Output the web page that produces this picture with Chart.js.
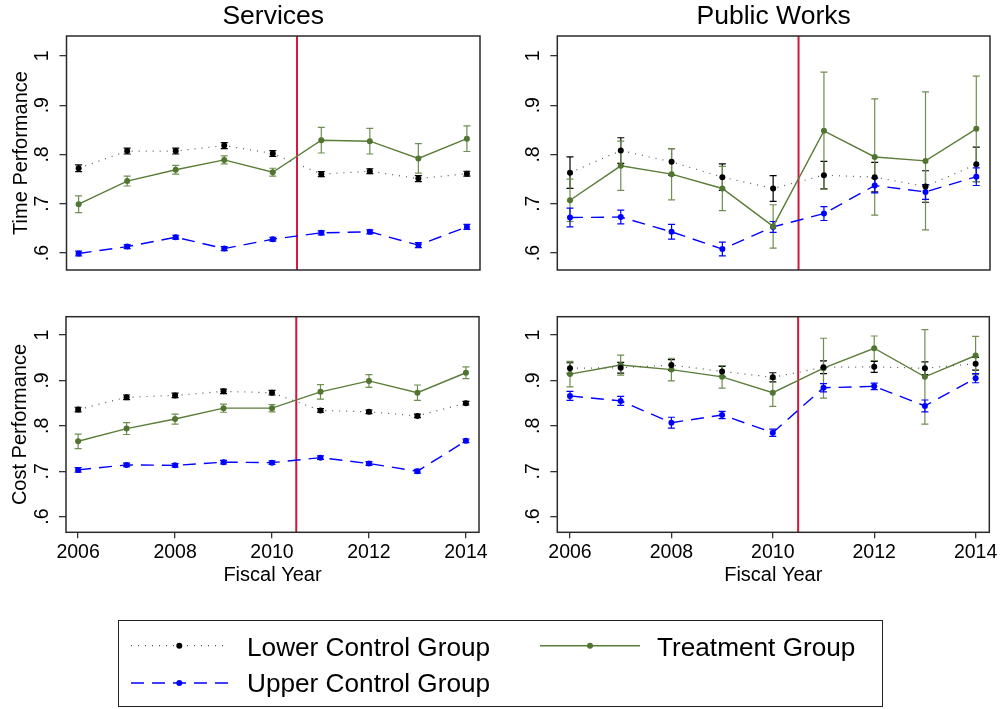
<!DOCTYPE html>
<html>
<head>
<meta charset="utf-8">
<script src="https://cdn.jsdelivr.net/npm/chart.js@4.4.1/dist/chart.umd.min.js"></script>
<style>
  html, body { margin:0; padding:0; background:#fff; }
  #page { position:relative; width:1003px; height:709px; background:#fff; overflow:hidden;
          font-family:"Liberation Sans", Arial, Helvetica, sans-serif; }
  .panel { position:absolute; }
  .legbox { position:absolute; left:118px; top:620px; width:765px; height:87px; box-sizing:border-box;
            border:1.5px solid #222; }
  .legtxt { position:absolute; font-size:26.2px; line-height:26.2px; color:#000; white-space:nowrap; }
  svg.leg { position:absolute; left:0; top:0; }
</style>
</head>
<body>
<div id="page">
  <div class="panel" style="left:0;top:0;width:500px;height:300px"><canvas id="c1"></canvas></div>
  <div class="panel" style="left:500px;top:0;width:503px;height:300px"><canvas id="c2"></canvas></div>
  <div class="panel" style="left:0;top:290px;width:500px;height:310px"><canvas id="c3"></canvas></div>
  <div class="panel" style="left:500px;top:290px;width:503px;height:310px"><canvas id="c4"></canvas></div>

  <div class="legbox"></div>
  <svg class="leg" width="1003" height="709">
    <line x1="131" y1="645.7" x2="228" y2="645.7" stroke="#555" stroke-width="1.2" stroke-dasharray="1 6"/>
    <circle cx="179.3" cy="645.7" r="3" fill="#000"/>
    <line x1="131" y1="683" x2="228" y2="683" stroke="#0000ff" stroke-width="1.4" stroke-dasharray="13 8"/>
    <circle cx="179.3" cy="683" r="3" fill="#0000ff"/>
    <line x1="540" y1="645.7" x2="640" y2="645.7" stroke="#5a7d38" stroke-width="1.4"/>
    <circle cx="590" cy="645.7" r="3" fill="#4f7530"/>
  </svg>
  <div class="legtxt" style="left:247px;top:633.5px">Lower Control Group</div>
  <div class="legtxt" style="left:657px;top:633.5px">Treatment Group</div>
  <div class="legtxt" style="left:247px;top:670.3px">Upper Control Group</div>
</div>

<script>
// ---------------- DATA ----------------
const years = [2006, 2007, 2008, 2009, 2010, 2011, 2012, 2013, 2014];
const policyYear = 2010.5;
const xTickValues = [2006, 2008, 2010, 2012, 2014];
const xTickLabels = ['2006', '2008', '2010', '2012', '2014'];
const yTickValues = [0.6, 0.7, 0.8, 0.9, 1];
const yTickLabels = ['.6', '.7', '.8', '.9', '1'];
const panelTitles = ['Services', 'Public Works'];
const rowTitles = ['Time Performance', 'Cost Performance'];
const xAxisTitle = 'Fiscal Year';
const seriesNames = ['Lower Control Group', 'Treatment Group', 'Upper Control Group'];

// Services – Time Performance
const svcTimeLower    = [0.772, 0.807, 0.807, 0.818, 0.802, 0.760, 0.766, 0.751, 0.761];
const svcTimeLowerErr = [0.007, 0.006, 0.006, 0.006, 0.006, 0.005, 0.005, 0.006, 0.005];
const svcTimeTreat    = [0.699, 0.746, 0.769, 0.789, 0.764, 0.829, 0.827, 0.792, 0.832];
const svcTimeTreatErr = [0.017, 0.010, 0.009, 0.008, 0.008, 0.026, 0.026, 0.030, 0.026];
const svcTimeUpper    = [0.599, 0.613, 0.632, 0.609, 0.628, 0.641, 0.643, 0.616, 0.653];
const svcTimeUpperErr = [0.005, 0.004, 0.004, 0.004, 0.004, 0.004, 0.004, 0.005, 0.005];

// Public Works – Time Performance
const pwTimeLower    = [0.763, 0.808, 0.785, 0.754, 0.731, 0.758, 0.754, 0.735, 0.780];
const pwTimeLowerErr = [0.032, 0.026, 0.027, 0.027, 0.026, 0.028, 0.030, 0.032, 0.035];
const pwTimeTreat    = [0.707, 0.777, 0.760, 0.731, 0.654, 0.848, 0.795, 0.787, 0.852];
const pwTimeTreatErr = [0.043, 0.050, 0.052, 0.045, 0.044, 0.119, 0.118, 0.140, 0.107];
const pwTimeUpper    = [0.672, 0.673, 0.643, 0.608, 0.653, 0.680, 0.737, 0.724, 0.755];
const pwTimeUpperErr = [0.019, 0.014, 0.015, 0.014, 0.011, 0.014, 0.015, 0.015, 0.018];

// Services – Cost Performance
const svcCostLower    = [0.836, 0.863, 0.867, 0.876, 0.873, 0.834, 0.831, 0.822, 0.850];
const svcCostLowerErr = [0.005, 0.005, 0.005, 0.005, 0.005, 0.004, 0.004, 0.004, 0.004];
const svcCostTreat    = [0.766, 0.794, 0.815, 0.839, 0.839, 0.875, 0.899, 0.873, 0.917];
const svcCostTreatErr = [0.016, 0.013, 0.011, 0.009, 0.008, 0.016, 0.014, 0.017, 0.013];
const svcCostUpper    = [0.703, 0.714, 0.713, 0.720, 0.719, 0.730, 0.717, 0.700, 0.767];
const svcCostUpperErr = [0.005, 0.004, 0.004, 0.004, 0.004, 0.004, 0.004, 0.004, 0.004];

// Public Works – Cost Performance
const pwCostLower    = [0.927, 0.928, 0.934, 0.920, 0.907, 0.929, 0.930, 0.927, 0.937];
const pwCostLowerErr = [0.012, 0.012, 0.012, 0.011, 0.010, 0.014, 0.012, 0.014, 0.014];
const pwCostTreat    = [0.914, 0.934, 0.924, 0.908, 0.873, 0.927, 0.971, 0.908, 0.955];
const pwCostTreatErr = [0.028, 0.022, 0.025, 0.025, 0.030, 0.066, 0.027, 0.104, 0.042];
const pwCostUpper    = [0.866, 0.855, 0.807, 0.824, 0.785, 0.884, 0.887, 0.844, 0.905];
const pwCostUpperErr = [0.010, 0.010, 0.012, 0.008, 0.008, 0.009, 0.007, 0.013, 0.010];

// ---------------- STYLE ----------------
const FONT = '"Liberation Sans", Arial, Helvetica, sans-serif';
const COL_LOWER = '#000000', COL_LOWER_LINE = '#555555';
const COL_TREAT = '#5a7d38', COL_TREAT_PT = '#4f7530', COL_TREAT_ERR = '#6f8f50';
const COL_UPPER = '#0000ff';
const COL_RED = '#d4163c';
const X_MIN = 2005.75, X_MAX = 2014.27, Y_MIN = 0.5655, Y_MAX = 1.0405;

function pts(vals) { return years.map((x, i) => ({ x: x, y: vals[i] })); }

function makeDatasets(lower, lowerErr, treat, treatErr, upper, upperErr) {
  return [
    { label: seriesNames[0], data: pts(lower), err: lowerErr, errColor: COL_LOWER,
      borderColor: COL_LOWER_LINE, borderWidth: 1.2, borderDash: [1, 6],
      pointBackgroundColor: COL_LOWER, pointBorderWidth: 0, pointRadius: 3 },
    { label: seriesNames[1], data: pts(treat), err: treatErr, errColor: COL_TREAT_ERR,
      borderColor: COL_TREAT, borderWidth: 1.4,
      pointBackgroundColor: COL_TREAT_PT, pointBorderWidth: 0, pointRadius: 3 },
    { label: seriesNames[2], data: pts(upper), err: upperErr, errColor: COL_UPPER,
      borderColor: COL_UPPER, borderWidth: 1.4, borderDash: [13, 8],
      pointBackgroundColor: COL_UPPER, pointBorderWidth: 0, pointRadius: 3 }
  ];
}

const stataPlugin = {
  id: 'stata',
  beforeDatasetsDraw(chart) {
    const ctx = chart.ctx, a = chart.chartArea;
    const xs = chart.scales.x, ys = chart.scales.y;
    // policy line
    const px = xs.getPixelForValue(policyYear);
    ctx.save();
    ctx.strokeStyle = COL_RED; ctx.lineWidth = 2;
    ctx.beginPath(); ctx.moveTo(px, a.top); ctx.lineTo(px, a.bottom); ctx.stroke();
    ctx.restore();
    // error bars
    chart.data.datasets.forEach(ds => {
      ctx.save();
      ctx.strokeStyle = ds.errColor; ctx.lineWidth = 1.2;
      ds.data.forEach((p, i) => {
        const e = ds.err[i];
        const x = xs.getPixelForValue(p.x);
        const y1 = ys.getPixelForValue(p.y - e), y2 = ys.getPixelForValue(p.y + e);
        ctx.beginPath();
        ctx.moveTo(x, y1); ctx.lineTo(x, y2);
        ctx.moveTo(x - 3.5, y1); ctx.lineTo(x + 3.5, y1);
        ctx.moveTo(x - 3.5, y2); ctx.lineTo(x + 3.5, y2);
        ctx.stroke();
      });
      ctx.restore();
    });
  },
  afterDraw(chart, args, opts) {
    const ctx = chart.ctx, a = chart.chartArea, ys = chart.scales.y;
    ctx.save();
    // frame
    ctx.strokeStyle = '#2a2a2a'; ctx.lineWidth = 1.5;
    ctx.strokeRect(a.left, a.top, a.right - a.left, a.bottom - a.top);
    ctx.fillStyle = '#000';
    // rotated y tick labels
    ctx.font = '19.5px ' + FONT;
    ctx.textAlign = 'center'; ctx.textBaseline = 'alphabetic';
    yTickValues.forEach((v, i) => {
      const y = ys.getPixelForValue(v);
      ctx.save(); ctx.translate(a.left - 18.3, y); ctx.rotate(-Math.PI / 2);
      ctx.fillText(yTickLabels[i], 0, 0); ctx.restore();
    });
    // y axis title
    if (opts.yTitle) {
      ctx.font = '20px ' + FONT;
      ctx.save(); ctx.translate(a.left - 39.6, (a.top + a.bottom) / 2); ctx.rotate(-Math.PI / 2);
      ctx.fillText(opts.yTitle, 0, 0); ctx.restore();
    }
    // panel title
    if (opts.title) {
      ctx.font = '26.5px ' + FONT;
      ctx.fillText(opts.title, (a.left + a.right) / 2, 24);
    }
    // x axis title
    if (opts.xTitle) {
      ctx.font = '20px ' + FONT;
      ctx.fillText(opts.xTitle, (a.left + a.right) / 2, a.bottom + 48.7);
    }
    ctx.restore();
  }
};

function makeChart(id, datasets, p) {
  return new Chart(document.getElementById(id), {
    type: 'line',
    data: { datasets: datasets },
    plugins: [stataPlugin],
    options: {
      responsive: true, maintainAspectRatio: false, animation: false, events: [],
      layout: { padding: p.padding },
      plugins: { legend: { display: false }, tooltip: { enabled: false },
                 stata: { title: p.title, yTitle: p.yTitle, xTitle: p.xTitle } },
      scales: {
        x: {
          type: 'linear', min: X_MIN, max: X_MAX, display: p.showX,
          afterBuildTicks: s => { s.ticks = xTickValues.map(v => ({ value: v })); },
          afterFit: s => { s.height = p.xHeight; },
          ticks: { color: '#000', padding: 3, maxRotation: 0, autoSkip: false,
                   font: { family: FONT, size: 19.5, lineHeight: 1.2 },
                   callback: (v) => xTickLabels[xTickValues.indexOf(v)] },
          grid: { drawOnChartArea: false, drawTicks: true, tickLength: 6, color: '#333', lineWidth: 1.3 },
          border: { display: false }
        },
        y: {
          type: 'linear', min: Y_MIN, max: Y_MAX,
          afterBuildTicks: s => { s.ticks = yTickValues.map(v => ({ value: v })); },
          afterFit: s => { s.width = p.yWidth; },
          ticks: { display: false },
          grid: { drawOnChartArea: false, drawTicks: true, tickLength: 7, color: '#333', lineWidth: 1.3 },
          border: { display: false }
        }
      }
    }
  });
}

makeChart('c1', makeDatasets(svcTimeLower, svcTimeLowerErr, svcTimeTreat, svcTimeTreatErr, svcTimeUpper, svcTimeUpperErr),
  { padding: { top: 36, right: 20, bottom: 30, left: 0 }, yWidth: 66.5, showX: false, xHeight: 0,
    title: panelTitles[0], yTitle: rowTitles[0] });
makeChart('c2', makeDatasets(pwTimeLower, pwTimeLowerErr, pwTimeTreat, pwTimeTreatErr, pwTimeUpper, pwTimeUpperErr),
  { padding: { top: 36, right: 13, bottom: 30, left: 0 }, yWidth: 57.3, showX: false, xHeight: 0,
    title: panelTitles[1] });
makeChart('c3', makeDatasets(svcCostLower, svcCostLowerErr, svcCostTreat, svcCostTreatErr, svcCostUpper, svcCostUpperErr),
  { padding: { top: 26.7, right: 21, bottom: 0, left: 0 }, yWidth: 66, showX: true, xHeight: 67.7,
    yTitle: rowTitles[1], xTitle: xAxisTitle });
makeChart('c4', makeDatasets(pwCostLower, pwCostLowerErr, pwCostTreat, pwCostTreatErr, pwCostUpper, pwCostUpperErr),
  { padding: { top: 26.7, right: 13.7, bottom: 0, left: 0 }, yWidth: 57.3, showX: true, xHeight: 67.7,
    xTitle: xAxisTitle });
</script>
</body>
</html>
